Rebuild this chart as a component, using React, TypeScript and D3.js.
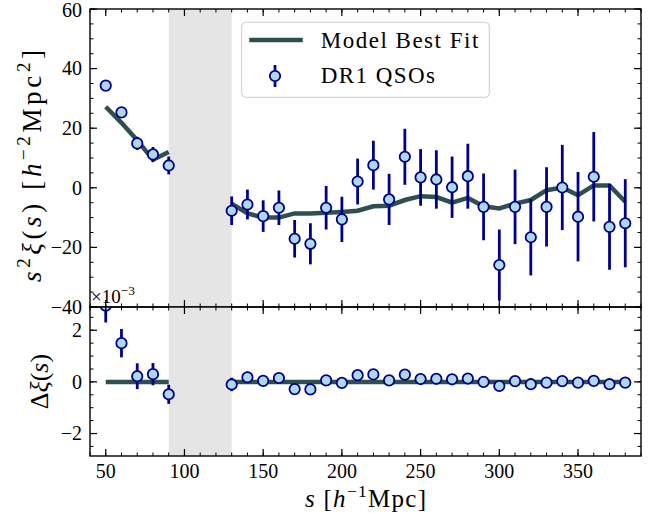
import * as d3 from 'd3';

// separations (h^-1 Mpc)
const sVals = [50, 60, 70, 80, 90, 130, 140, 150, 160, 170, 180, 190, 200, 210, 220, 230, 240, 250, 260, 270, 280, 290, 300, 310, 320, 330, 340, 350, 360, 370, 380];
// s^2 xi(s) measurements
const s2xi = [34.3, 25.3, 14.9, 11.2, 7.5, -7.7, -5.6, -9.5, -6.7, -17.1, -18.8, -6.7, -10.6, 2.1, 7.6, -3.9, 10.4, 3.5, 2.8, 0.2, 3.9, -6.4, -25.9, -6.4, -16.6, -6.4, 0.1, -9.7, 3.7, -13.1, -11.9];
const s2xiErr = [1.2, 1.5, 2.2, 2.5, 3.0, 4.8, 5.0, 5.3, 5.8, 6.3, 6.9, 7.3, 7.6, 7.7, 8.2, 8.6, 9.4, 9.5, 9.8, 10.3, 10.9, 11.2, 11.9, 12.5, 12.8, 13.3, 14.3, 15.0, 15.0, 14.4, 14.8];
// model best fit
const s2xiModel = [27.2, 21.8, 16.0, 9.4, 12.0, -5.3, -8.6, -10.0, -10.0, -8.6, -8.6, -8.4, -8.1, -7.7, -6.2, -6.0, -4.1, -2.8, -3.1, -5.0, -3.4, -6.2, -6.9, -5.3, -4.1, -0.8, 0.1, -2.5, 0.8, 0.8, -4.7];
// residual panel (x 1e-3)
const dxi = [2.95, 1.5, 0.22, 0.3, -0.48, -0.1, 0.18, 0.04, 0.15, -0.28, -0.29, 0.06, -0.04, 0.26, 0.29, 0.06, 0.28, 0.11, 0.12, 0.1, 0.13, 0.0, -0.16, 0.03, -0.09, -0.03, 0.03, -0.03, 0.04, -0.09, -0.03];
const dxiErr = [0.65, 0.55, 0.5, 0.43, 0.37, 0.26, 0.22, 0.2, 0.2, 0.2, 0.19, 0.18, 0.18, 0.17, 0.17, 0.16, 0.16, 0.15, 0.15, 0.15, 0.14, 0.14, 0.14, 0.13, 0.13, 0.13, 0.12, 0.12, 0.12, 0.12, 0.12];
const dxiModel = sVals.map(() => 0);

const maskRange = [90, 130];
const xTicks = [50, 100, 150, 200, 250, 300, 350];
const yTopTicks = [-40, -20, 0, 20, 40, 60];
const yBotTicks = [-2, 0, 2];

const W = 659;
const H = 516;
const left = 90;
const right = 641;
const top = 9;
const split = 307;
const bottom = 456;

const FONT = "'Liberation Serif', 'DejaVu Serif', serif";
const MODEL = '#2f4f4f';
const EDGE = '#00008b';
const FILL = '#add8e6';

const fmt = (v: number) => (v < 0 ? '\u2212' + Math.abs(v) : String(v));

type Piece = { t: string; it?: boolean; sup?: boolean };

function MathText({ pieces, size, ...rest }: { pieces: Piece[]; size: number; [k: string]: any }) {
  const out: any[] = [];
  let raised = false;
  pieces.forEach((p, i) => {
    let dy = 0;
    if (p.sup && !raised) { dy = -size * 0.4; raised = true; }
    else if (!p.sup && raised) { dy = size * 0.4; raised = false; }
    out.push(
      <tspan key={i} dy={dy || undefined} fontStyle={p.it ? 'italic' : undefined} fontSize={p.sup ? size * 0.7 : undefined}>
        {p.t}
      </tspan>
    );
  });
  return <text fontFamily={FONT} fontSize={size} {...rest}>{out}</text>;
}

export default function App() {
  const x = d3.scaleLinear().domain([40, 390]).range([left, right]);
  const yT = d3.scaleLinear().domain([-40, 60]).range([split, top]);
  const yB = d3.scaleLinear().domain([-2.87, 2.9]).range([bottom, split]);

  const xMinor = d3.range(40, 391, 10);
  const yTopMinor = d3.range(-40, 61, 5);
  const yBotMinor = d3.range(-2.5, 2.9, 0.5);

  const segments = (vals: number[]) => [
    sVals.map((s, i) => [s, vals[i]] as [number, number]).filter(d => d[0] <= maskRange[0]),
    sVals.map((s, i) => [s, vals[i]] as [number, number]).filter(d => d[0] >= maskRange[1]),
  ];

  const panel = (
    y: d3.ScaleLinear<number, number>,
    y0: number,
    y1: number,
    vals: number[],
    errs: number[],
    model: number[],
    yMajor: number[],
    yMinor: number[],
    id: string
  ) => {
    const line = d3.line<[number, number]>().x(d => x(d[0])).y(d => y(d[1]));
    return (
      <g>
        <clipPath id={id}>
          <rect x={left} y={y0} width={right - left} height={y1 - y0} />
        </clipPath>
        <rect x={x(maskRange[0])} y={y0} width={x(maskRange[1]) - x(maskRange[0])} height={y1 - y0} fill="#e5e5e5" />
        <g clipPath={`url(#${id})`}>
          {segments(model).map((seg, i) => (
            <path key={i} d={line(seg) || ''} fill="none" stroke={MODEL} strokeWidth={4.5} />
          ))}
          {sVals.map((s, i) => (
            <line key={'e' + i} x1={x(s)} x2={x(s)} y1={y(vals[i] - errs[i])} y2={y(vals[i] + errs[i])} stroke={EDGE} strokeWidth={2.8} />
          ))}
          {sVals.map((s, i) => (
            <circle key={'c' + i} cx={x(s)} cy={y(vals[i])} r={5.2} fill={FILL} stroke={EDGE} strokeWidth={1.8} />
          ))}
        </g>
        {/* ticks, all inward */}
        {xMinor.map(v => (
          <g key={'xm' + v} stroke="black" strokeWidth={1}>
            <line x1={x(v)} x2={x(v)} y1={y1} y2={y1 - 3.5} />
            <line x1={x(v)} x2={x(v)} y1={y0} y2={y0 + 3.5} />
          </g>
        ))}
        {xTicks.map(v => (
          <g key={'xM' + v} stroke="black" strokeWidth={1.2}>
            <line x1={x(v)} x2={x(v)} y1={y1} y2={y1 - 7} />
            <line x1={x(v)} x2={x(v)} y1={y0} y2={y0 + 7} />
          </g>
        ))}
        {yMinor.map(v => (
          <g key={'ym' + v} stroke="black" strokeWidth={1}>
            <line x1={left} x2={left + 3.5} y1={y(v)} y2={y(v)} />
            <line x1={right} x2={right - 3.5} y1={y(v)} y2={y(v)} />
          </g>
        ))}
        {yMajor.map(v => (
          <g key={'yM' + v}>
            <line x1={left} x2={left + 7} y1={y(v)} y2={y(v)} stroke="black" strokeWidth={1.2} />
            <line x1={right} x2={right - 7} y1={y(v)} y2={y(v)} stroke="black" strokeWidth={1.2} />
            <text x={left - 8} y={Math.max(y(v), 10)} dy="0.34em" textAnchor="end" fontFamily={FONT} fontSize={20}>{fmt(v)}</text>
          </g>
        ))}
        <rect x={left} y={y0} width={right - left} height={y1 - y0} fill="none" stroke="black" strokeWidth={1.4} />
      </g>
    );
  };

  return (
    <svg width={W} height={H} style={{ position: 'absolute', left: 0, top: 0, background: 'white' }}>
      {panel(yT, top, split, s2xi, s2xiErr, s2xiModel, yTopTicks, yTopMinor, 'clipTop')}
      {panel(yB, split, bottom, dxi, dxiErr, dxiModel, yBotTicks, yBotMinor, 'clipBot')}

      {xTicks.map(v => (
        <text key={v} x={x(v)} y={bottom + 22} textAnchor="middle" fontFamily={FONT} fontSize={20}>{v}</text>
      ))}

      <MathText size={19} x={left + 1} y={303} pieces={[{ t: '\u00d710' }, { t: '\u22123', sup: true }]} />

      <MathText size={25} x={(left + right) / 2} y={507} textAnchor="middle" textLength={121}
        pieces={[{ t: 's', it: true }, { t: ' [' }, { t: 'h', it: true }, { t: '\u22121', sup: true }, { t: 'Mpc]' }]} />

      <MathText size={27} textAnchor="middle" textLength={232} transform={`translate(41,${(top + split) / 2 + 8}) rotate(-90)`}
        pieces={[{ t: 's', it: true }, { t: '2', sup: true }, { t: '\u03be', it: true }, { t: '(' }, { t: 's', it: true }, { t: ')  [' }, { t: 'h', it: true }, { t: '\u22122', sup: true }, { t: 'Mpc' }, { t: '2', sup: true }, { t: ']' }]} />

      <MathText size={26} textAnchor="middle" transform={`translate(48,${(split + bottom) / 2}) rotate(-90)`}
        pieces={[{ t: '\u0394' }, { t: '\u03be', it: true }, { t: '(' }, { t: 's', it: true }, { t: ')' }]} />

      {/* legend */}
      <g>
        <rect x={241.7} y={22.3} width={247.6} height={75} rx={4} fill="white" fillOpacity={0.8} stroke="#cccccc" strokeWidth={1} />
        <line x1={249.3} x2={302.7} y1={40} y2={40} stroke={MODEL} strokeWidth={4.5} />
        <text x={320.7} y={48.3} fontFamily={FONT} fontSize={23} textLength={157.6}>Model Best Fit</text>
        <line x1={275} x2={275} y1={65} y2={87} stroke={EDGE} strokeWidth={2.8} />
        <circle cx={275} cy={76} r={5.2} fill={FILL} stroke={EDGE} strokeWidth={1.8} />
        <text x={320.7} y={82.7} fontFamily={FONT} fontSize={23} textLength={114.3}>DR1 QSOs</text>
      </g>
    </svg>
  );
}
